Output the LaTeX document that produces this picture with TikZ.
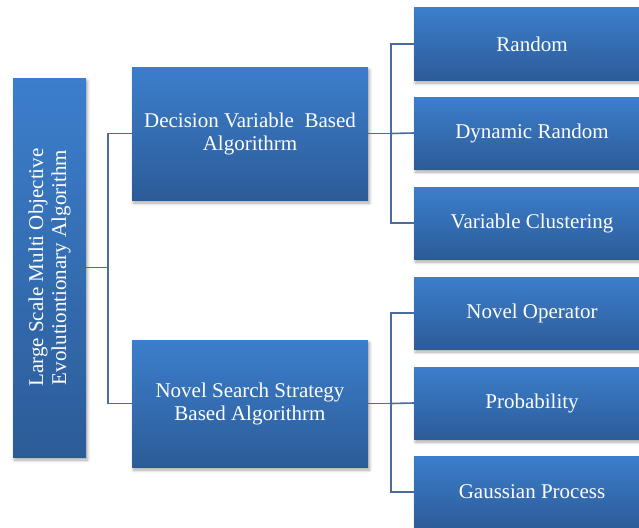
\documentclass[tikz,border=0pt]{standalone}
\usepackage{fontspec}
\setmainfont{Liberation Serif}
\usetikzlibrary{shadows.blur}
\definecolor{boxtop}{RGB}{60,126,204}
\definecolor{boxbot}{RGB}{44,92,152}
\definecolor{linkcol}{RGB}{74,108,160}
\tikzset{
  box/.style={draw=none, inner sep=0pt, top color=boxtop, bottom color=boxbot,
    blur shadow={shadow xshift=1.5pt, shadow yshift=-3pt, shadow blur steps=6,
      shadow blur radius=3pt, shadow opacity=35},
    text=white, align=center, font=\fontsize{21}{23}\selectfont},
  midbox/.style={box, minimum width=236pt},
  leafbox/.style={box, minimum width=236pt, minimum height=72pt},
  label/.style={text=white, align=center, inner sep=0pt, font=\fontsize{21}{23}\selectfont},
  link/.style={draw=linkcol, line width=1.6pt}
}
\begin{document}
\begin{tikzpicture}[x=1pt, y=-1pt]
\useasboundingbox (0,0) rectangle (639,527);
\begin{scope}
\clip (0,0) rectangle (639,527);
% root box and its rotated title
\node[box, minimum width=73pt, minimum height=379pt] (root) at (49.5,267.5) {};
\node[label, rotate=90] (roottext) at (root.center)
  {Large Scale Multi Objective\\Evolutiontionary Algorithm};
% second level
\node[midbox, minimum height=133pt] (dv) at (250,133.5) {Decision Variable\ \ Based\\Algorithrm};
\node[midbox, minimum height=127pt] (ns) at (250,403.5) {Novel Search Strategy\\Based Algorithrm};
% leaves
\node[leafbox] (r1) at (532,44) {Random};
\node[leafbox] (r2) at (532,133) {Dynamic Random};
\node[leafbox] (r3) at (532,223) {Variable Clustering};
\node[leafbox] (r4) at (532,313) {Novel Operator};
\node[leafbox] (r5) at (532,403) {Probability};
\node[leafbox] (r6) at (532,492) {Gaussian Process};
\end{scope}
% connectors
\coordinate (j0) at (108,267.5);
\coordinate (j1) at (391,133.5);
\coordinate (j2) at (391,403.5);
\draw[link] (root.east) -- (j0);
\draw[link] (dv.west) -| (j0) |- (ns.west);
\draw[link] (dv.east) -- (j1);
\draw[link] (r1.west) -| (j1) |- (r3.west);
\draw[link] (j1) -- (r2.west);
\draw[link] (ns.east) -- (j2);
\draw[link] (r4.west) -| (j2) |- (r6.west);
\draw[link] (j2) -- (r5.west);
\end{tikzpicture}
\end{document}
